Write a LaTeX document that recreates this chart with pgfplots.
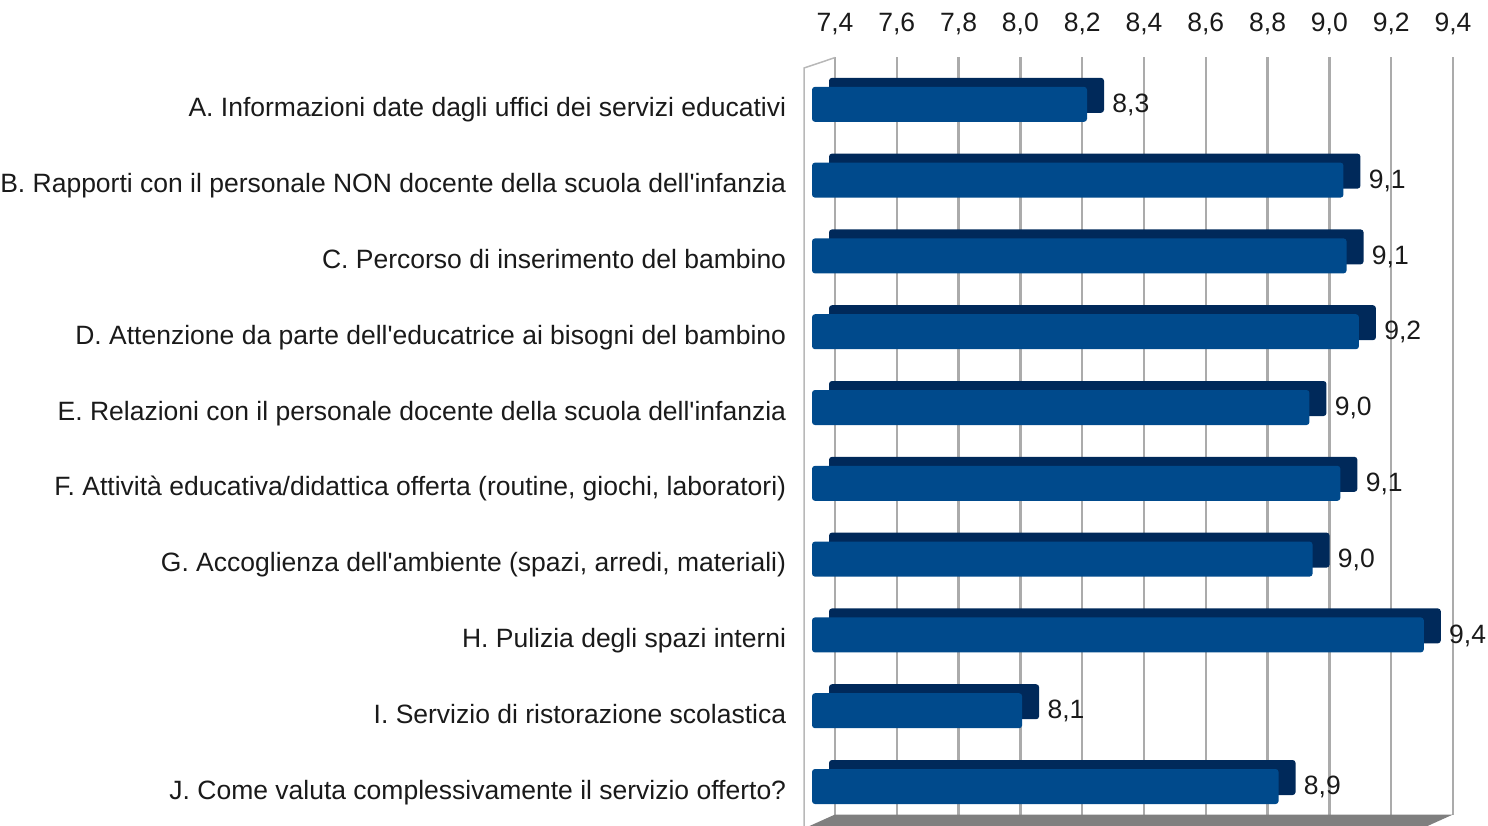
\documentclass[border=0pt]{standalone}
\usepackage{fontspec}
\setmainfont{Liberation Sans}
\usepackage{pgfplots}
\pgfplotsset{compat=1.18}
\usepackage{pgfplotstable}
\definecolor{barfront}{HTML}{004A8C}
\definecolor{bartop}{HTML}{00295A}
\definecolor{gridc}{HTML}{ABABAB}
\definecolor{floorc}{HTML}{7F7F7F}
\definecolor{wallc}{HTML}{B8B8B8}
\definecolor{txt}{HTML}{1A1A1A}

\pgfplotstableread{
idx val
0 8.29
1 9.12
2 9.13
3 9.17
4 9.01
5 9.11
6 9.02
7 9.38
8 8.08
9 8.91
}\datatable

\newcommand\lf{\fontsize{13.25}{15}\selectfont}
\newcommand\ap{\textquotesingle}

\begin{document}
\begin{tikzpicture}
\begin{axis}[
  at={(406pt,-412.2pt)}, anchor=south west,
  scale only axis, width=339.9pt, height=379pt,
  xmin=7.4, xmax=9.6, ymin=-0.5, ymax=9.5, y dir=reverse,
  axis line style={draw=none}, major tick style={draw=none},
  xtick={7.4,7.6,7.8,8.0,8.2,8.4,8.6,8.8,9.0,9.2,9.4},
  xticklabel pos=upper,
  xmajorgrids,
  grid style={gridc, line width=1.25pt, xshift=11.5pt, yshift=4.5pt},
  xticklabel style={font=\lf, text=txt, anchor=base, inner sep=0pt, xshift=11.5pt, yshift=17.3pt},
  ytick={0,1,2,3,4,5,6,7,8,9},
  yticklabels={
    {A. Informazioni date dagli uffici dei servizi educativi},
    {B. Rapporti con il personale NON docente della scuola dell\ap infanzia},
    {C. Percorso di inserimento del bambino},
    {D. Attenzione da parte dell\ap educatrice ai bisogni del bambino},
    {E. Relazioni con il personale docente della scuola dell\ap infanzia},
    {F. Attività educativa/didattica offerta (routine, giochi, laboratori)},
    {G. Accoglienza dell\ap ambiente (spazi, arredi, materiali)},
    {H. Pulizia degli spazi interni},
    {I. Servizio di ristorazione scolastica},
    {J. Come valuta complessivamente il servizio offerto?}},
  yticklabel style={font=\lf, text=txt, anchor=base east, inner sep=0pt, xshift=-8.5pt, yshift=-6.25pt},
  xbar, bar width=17.5pt,
  /pgf/number format/.cd, use comma, fixed, fixed zerofill, precision=1, assume math mode=true,
]
\addplot[xbar, bar shift=0pt, fill=bartop, draw=none, rounded corners=1.5pt, xshift=8.5pt, yshift=4.5pt, forget plot]
  table[x=val, y=idx] {\datatable};
\addplot[xbar, bar shift=0pt, fill=barfront, draw=none, rounded corners=1.5pt,
  nodes near coords,
  nodes near coords style={font=\lf, text=txt, anchor=base west, inner sep=0pt, xshift=12.5pt, yshift=-4.1pt}]
  table[x=val, y=idx] {\datatable};
\end{axis}
\begin{scope}[x=0.5pt, y=-0.5pt]
\fill[floorc] (835,814.5) -- (1453,814.5) -- (1423,828) -- (805,828) -- cycle;
\draw[wallc, line width=0.75pt] (804,830) -- (804,68) -- (835,57.6);
\pgfresetboundingbox
\path[use as bounding box] (0,0) rectangle (1488,825);
\end{scope}
\end{tikzpicture}
\end{document}
